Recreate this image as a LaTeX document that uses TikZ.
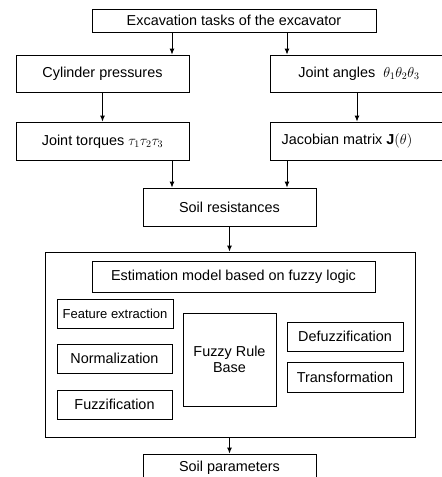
\documentclass[tikz,border=0pt]{standalone}
\usepackage{fontspec}
\setmainfont{Liberation Sans}
\usetikzlibrary{arrows.meta}
\tikzset{every node/.style={font=\fontsize{14.4}{16}\selectfont},
  blk/.style={draw=black,fill=white,line width=0.9pt,align=center,inner sep=1pt},
  lnk/.style={draw=black,line width=0.9pt},
  arr/.style={lnk,-{Latex[length=6pt,width=5pt]}}}
\newcommand{\fS}{\fontsize{13}{15}\selectfont}

\begin{document}
\begin{tikzpicture}[x=1pt,y=-1pt]
  \path[use as bounding box] (0,0) rectangle (442,477);

  % Measurement chain
  \node[blk,minimum width=284,minimum height=23] (task) at (234,20.5) {Excavation tasks of the excavator};
  \node[blk,minimum width=173,minimum height=37] (press) at (102.5,73.5) {Cylinder pressures};
  \node[blk,minimum width=178,minimum height=37] (angle) at (359,73.5) {Joint angles\ \ $\theta_1\theta_2\theta_3$};
  \node[blk,minimum width=173,minimum height=38.5] (torq) at (102.5,141.3) {Joint torques $\tau_1\tau_2\tau_3$};
  \node[blk,minimum width=178,minimum height=38.5] (jac) at (359,141.3) {\hspace*{-24pt}Jacobian matrix $\mathbf{J}(\theta)$};
  \node[blk,minimum width=173,minimum height=38] (soil) at (229.5,207) {Soil resistances};

  % Fuzzy estimation model
  \node[blk,minimum width=370,minimum height=185] (est) at (230,344.5) {};
  \node[blk,minimum width=283,minimum height=31] (model) at (233.5,276.5) {Estimation model based on fuzzy logic};
  \node[blk,minimum width=116,minimum height=29] (feat) at (115,313.5) {\fS Feature extraction};
  \node[blk,minimum width=115,minimum height=29] (norm) at (114.5,358.5) {Normalization};
  \node[blk,minimum width=115,minimum height=29] (fuzz) at (114.5,404.5) {Fuzzification};
  \node[blk,minimum width=93,minimum height=93] (rule) at (229.5,359.5) {Fuzzy Rule\\Base};
  \node[blk,minimum width=116,minimum height=29] (defuzz) at (345,336.5) {Defuzzification};
  \node[blk,minimum width=116,minimum height=30] (trans) at (345,377) {Transformation};

  \node[blk,minimum width=173,minimum height=38,text depth=13pt] (param) at (229.5,473) {Soil parameters};

  % Connectors
  \coordinate (lcol) at (172,0);
  \coordinate (rcol) at (287,0);
  \coordinate (acol) at (357,0);
  \draw[arr] (task.south -| lcol) -- (press.north -| lcol);
  \draw[arr] (task.south -| rcol) -- (angle.north -| rcol);
  \draw[arr] (press) -- (torq);
  \draw[arr] (angle.south -| acol) -- (jac.north -| acol);
  \draw[arr] (torq.south -| lcol) -- (soil.north -| lcol);
  \draw[arr] (jac.south -| rcol) -- (soil.north -| rcol);
  \draw[arr] (soil.south) -- (soil.south |- est.north);
  \draw[arr] (est.south -| soil.south) -- (param.north);
\end{tikzpicture}
\end{document}
